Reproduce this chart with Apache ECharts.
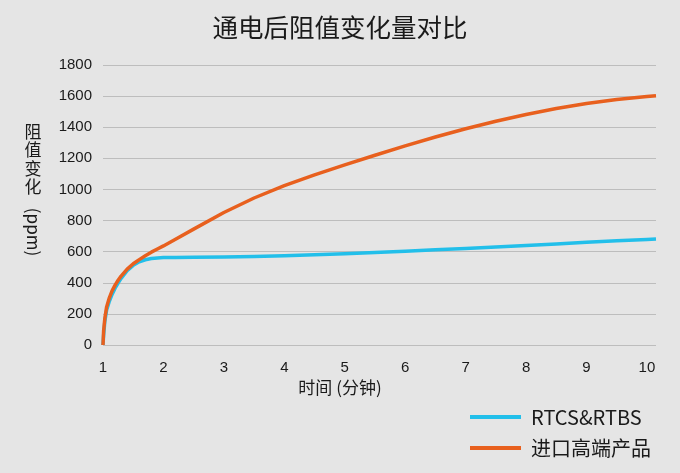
<!DOCTYPE html>
<html>
<head>
<meta charset="utf-8">
<script src="https://cdn.jsdelivr.net/npm/echarts@6/dist/echarts.min.js"></script>
<style>
html,body{margin:0;padding:0;background:#e5e5e5;}
#chart{width:680px;height:473px;}
</style>
</head>
<body>
<div id="chart"></div>
<script>
// Time (minutes)
var time = [1, 1.01, 1.03, 1.06, 1.1, 1.15, 1.2, 1.25, 1.3, 1.4, 1.5, 1.6, 1.7, 1.8, 1.9, 2.0, 2.2, 2.5, 3, 3.5, 4, 4.5, 5, 5.5, 6, 6.5, 7, 7.5, 8, 8.5, 9, 9.5, 10, 10.15];
// RTCS&RTBS resistance change (ppm)
var rtcs = [0, 60, 150, 225, 275, 325, 365, 398, 428, 478, 512, 535, 548, 556, 560, 562, 563, 564, 566, 569, 574, 580, 587, 595, 603, 612, 620, 630, 640, 650, 660, 670, 678, 681];
// Imported high-end product resistance change (ppm)
var imported = [0, 90, 170, 245, 298, 348, 385, 416, 443, 488, 522, 549, 574, 597, 617, 637, 680, 745, 852, 945, 1024, 1094, 1158, 1220, 1280, 1337, 1390, 1438, 1482, 1520, 1553, 1578, 1597, 1602];
var seriesNames = ['RTCS&RTBS', '进口高端产品'];
var xTicks = [1, 2, 3, 4, 5, 6, 7, 8, 9, 10];
var yTicks = [0, 200, 400, 600, 800, 1000, 1200, 1400, 1600, 1800];

function pairs(xs, ys) { return xs.map(function (x, i) { return [x, ys[i]]; }); }

var chart = echarts.init(document.getElementById('chart'));
var gridColor = '#bdbdbd';
var labelFont = 'Liberation Sans, Arial, sans-serif';
var cjk = '"Noto Sans CJK SC"';
chart.setOption({
  backgroundColor: '#e5e5e5',
  animation: false,
  title: {
    text: '通电后阻值变化量对比',
    left: 'center',
    top: 10,
    textStyle: { fontFamily: 'Noto Sans CJK SC', fontSize: 25.5, fontWeight: 'normal', color: '#1a1a1a' }
  },
  grid: { left: 103, right: 24, top: 65, bottom: 128, containLabel: false, outerBoundsMode: 'none' },
  legend: {
    orient: 'vertical',
    left: 465,
    top: 402,
    icon: 'rect',
    itemWidth: 51,
    itemHeight: 4,
    itemGap: 11,
    textStyle: { fontFamily: 'Noto Sans CJK SC', fontSize: 20, color: '#1a1a1a', padding: [0, 0, 0, 5] },
    data: seriesNames
  },
  xAxis: {
    type: 'value',
    min: xTicks[0],
    max: 10.15,
    interval: 1,
    axisLine: { show: false },
    axisTick: { show: false },
    splitLine: { show: false },
    axisLabel: {
      margin: 15,
      fontFamily: labelFont, fontSize: 15, color: '#1a1a1a',
      showMaxLabel: false,
      formatter: function (v) { return xTicks.indexOf(v) >= 0 ? String(v) : ''; }
    }
  },
  yAxis: {
    type: 'value',
    min: yTicks[0],
    max: yTicks[yTicks.length - 1],
    interval: 200,
    axisLine: { show: false },
    axisTick: { show: false },
    splitLine: { lineStyle: { color: gridColor, width: 1.2 } },
    axisLabel: {
      margin: 11, fontFamily: labelFont, fontSize: 15, color: '#1a1a1a',
      formatter: function (v) { return String(v); }
    }
  },
  graphic: [
    { type: 'text', left: 'center', top: 379, style: { text: '时间 (分钟)', font: '17px ' + cjk, fill: '#1a1a1a' } },
    { type: 'text', x: 33, y: 132, style: { text: '阻', font: '17px ' + cjk, fill: '#1a1a1a', align: 'center', verticalAlign: 'middle' } },
    { type: 'text', x: 33, y: 150, style: { text: '值', font: '17px ' + cjk, fill: '#1a1a1a', align: 'center', verticalAlign: 'middle' } },
    { type: 'text', x: 33, y: 168.5, style: { text: '变', font: '17px ' + cjk, fill: '#1a1a1a', align: 'center', verticalAlign: 'middle' } },
    { type: 'text', x: 33, y: 187, style: { text: '化', font: '17px ' + cjk, fill: '#1a1a1a', align: 'center', verticalAlign: 'middle' } },
    { type: 'text', x: 33, y: 232, rotation: -Math.PI / 2, style: { text: '(ppm)', font: '17px ' + cjk, fill: '#1a1a1a', align: 'center', verticalAlign: 'middle' } }
  ],
  series: [
    {
      name: seriesNames[0], type: 'line', data: pairs(time, rtcs),
      smooth: false, showSymbol: false,
      color: '#22bfea', lineStyle: { color: '#22bfea', width: 3.5, join: 'round' }, z: 2
    },
    {
      name: seriesNames[1], type: 'line', data: pairs(time, imported),
      smooth: false, showSymbol: false,
      color: '#e8601e', lineStyle: { color: '#e8601e', width: 3.5, join: 'round' }, z: 3
    }
  ]
});
</script>
</body>
</html>
